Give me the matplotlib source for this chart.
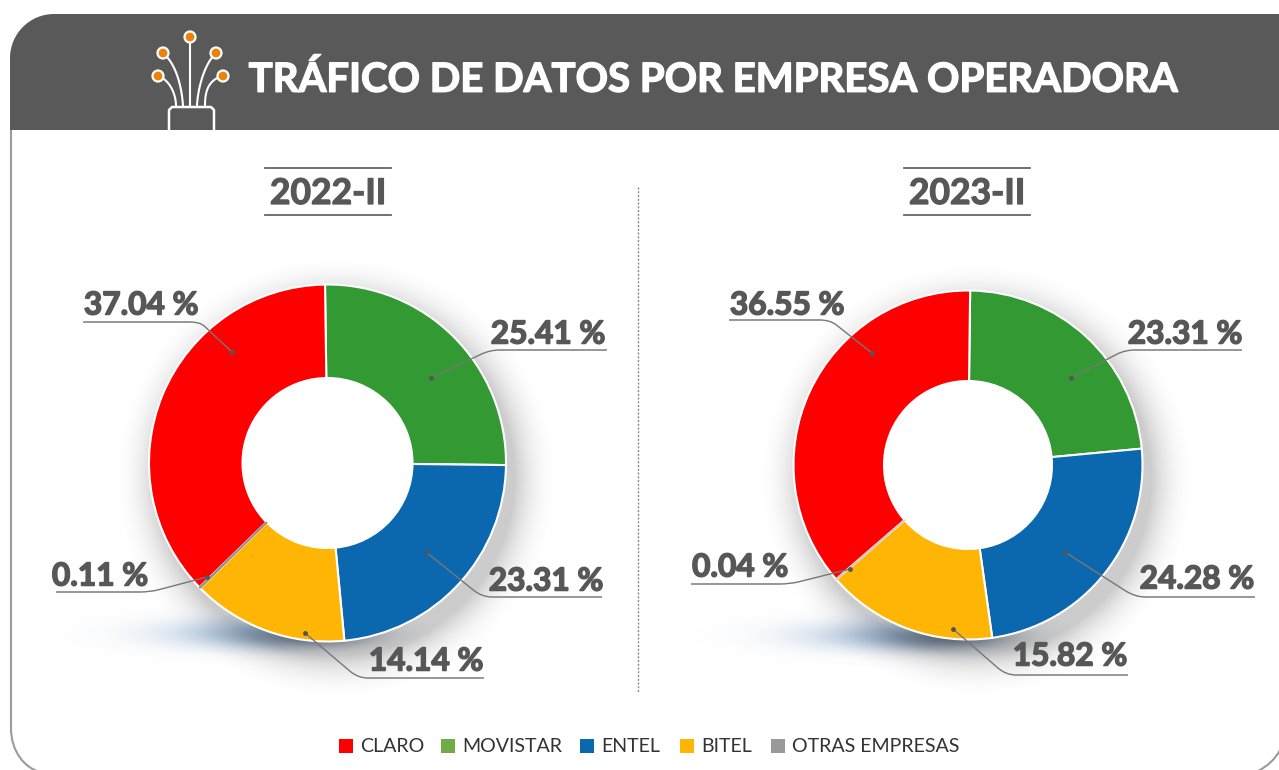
import numpy as np
import matplotlib
matplotlib.use("Agg")
import matplotlib.pyplot as plt
import matplotlib.patheffects as pe
from matplotlib.patches import PathPatch, Circle, Rectangle
from matplotlib.path import Path

W, H = 1279, 770
TITLE = "TRÁFICO DE DATOS POR EMPRESA OPERADORA"
periods = ["2022-II", "2023-II"]
companies = ["CLARO", "MOVISTAR", "ENTEL", "BITEL", "OTRAS EMPRESAS"]
share_2022 = [37.04, 25.41, 23.31, 14.14, 0.11]
share_2023 = [36.55, 23.31, 24.28, 15.82, 0.04]
colors = ["#FF0000", "#339933", "#0B67AE", "#FFB504", "#8F8F8F"]
legend_colors = ["#FF0000", "#70AD47", "#0B67AE", "#FFB504", "#999999"]
GREY = "#575757"
FONT = ["Lato", "DejaVu Sans"]

fig = plt.figure(figsize=(W / 100, H / 100), dpi=100, facecolor="white")
bg = fig.add_axes([0, 0, 1, 1])
bg.set_xlim(0, W)
bg.set_ylim(H, 0)
bg.axis("off")

k = 0.55
r = 44
# frame: left side with lower-left corner, and the lower-right corner
frame = Path(
    [(11, 130), (11, 728), (11, 752), (25, 768), (40, 772)],
    [Path.MOVETO, Path.LINETO, Path.CURVE4, Path.CURVE4, Path.CURVE4],
)
bg.add_patch(PathPatch(frame, fc="none", ec="#9B9B9B", lw=1.5))
corner = Path([(1258, 771), (1268, 766), (1276, 758), (1280, 750)],
              [Path.MOVETO, Path.CURVE4, Path.CURVE4, Path.CURVE4])
bg.add_patch(PathPatch(corner, fc="none", ec="#9B9B9B", lw=1.5))

# header
header = Path(
    [(10, 130), (10, 14 + r), (10, 14 + r * (1 - k)), (10 + r * (1 - k), 14), (10 + r, 14),
     (1281, 14), (1281, 130), (10, 130)],
    [Path.MOVETO, Path.LINETO, Path.CURVE4, Path.CURVE4, Path.CURVE4,
     Path.LINETO, Path.LINETO, Path.CLOSEPOLY],
)
bg.add_patch(PathPatch(header, fc="#595959", ec="none"))
bg.text(713, 80, TITLE, color="white", fontsize=28.9, fontweight="bold", family=FONT,
        ha="center", va="center",
        path_effects=[pe.withStroke(linewidth=1.0, foreground="white")])

# fibre icon
bg.plot([169, 169, 172, 211, 214, 214], [130, 110, 107, 107, 110, 130],
        color="white", lw=1.8, solid_capstyle="round")
fibres = [
    ([176, 174, 168, 158], [106, 94, 83, 76]),
    ([183, 181, 175, 163], [106, 90, 70, 53]),
    ([190, 190, 190], [106, 80, 37]),
    ([197, 199, 205, 216], [106, 90, 70, 53]),
    ([205, 206, 211, 223], [106, 94, 83, 76]),
]
for xs, ys in fibres:
    t = np.linspace(0, 1, len(xs))
    tt = np.linspace(0, 1, 30)
    cx = np.polyval(np.polyfit(t, xs, len(xs) - 1), tt)
    cy = np.polyval(np.polyfit(t, ys, len(ys) - 1), tt)
    bg.plot(cx, cy, color="white", lw=1.5)
    bg.add_patch(Circle((xs[-1], ys[-1]), 5.5, fc="#EE8208", ec="white", lw=1.6, zorder=3))

# divider
bg.plot([638, 638], [187, 692], color="#8A8A8A", lw=1.0, ls=(0, (1.5, 1.2)))

yy, xx = np.mgrid[0:H:1.0, 0:W:1.0]


def layer(alpha, rgb):
    img = np.zeros((H, W, 4))
    img[..., 0], img[..., 1], img[..., 2] = rgb
    img[..., 3] = alpha
    bg.imshow(img, extent=(0, W, H, 0), zorder=1, aspect="auto", interpolation="bilinear")


def soft_shadow(cx, cy, radius):
    inside = np.hypot(xx - cx, yy - cy) < radius - 2
    d = np.hypot(xx - (cx + 8), yy - (cy + 14))
    halo = np.clip((radius + 46 - d) / 46, 0, 1) ** 2.2 * 0.30
    halo[inside] = 0
    layer(halo, (0.33, 0.33, 0.33))
    sx = np.where(xx < cx - 70, 95, 80)
    glow = np.exp(-(((xx - (cx - 70)) / sx) ** 2 + ((yy - (cy + 170)) / 15) ** 2)) * 0.42
    glow[inside] = 0
    layer(glow, (0.25, 0.45, 0.68))
    core = np.exp(-(((xx - (cx - 15)) / 60) ** 2 + ((yy - (cy + 172)) / 12) ** 2)) * 0.65
    core[inside] = 0
    layer(core, (0.22, 0.25, 0.30))
    bg.set_xlim(0, W)
    bg.set_ylim(H, 0)


def draw_pie(cx, cy, radius, hole, values, start, sliver):
    soft_shadow(cx, cy, radius)
    ax = fig.add_axes([(cx - radius - 2) / W, 1 - (cy + radius + 2) / H,
                       (2 * radius + 4) / W, (2 * radius + 4) / H], zorder=2)
    ax.patch.set_alpha(0)
    order = [1, 2, 3, 4, 0]
    wedges, _ = ax.pie([values[i] for i in order], colors=[colors[i] for i in order],
                       startangle=start, counterclock=False, radius=radius,
                       wedgeprops=dict(width=radius - hole, edgecolor="white", linewidth=1.5))
    wedges[3].set_edgecolor(sliver)
    wedges[3].set_linewidth(0.9)
    wedges[3].set_zorder(5)
    ax.set_xlim(-radius - 2, radius + 2)
    ax.set_ylim(-radius - 2, radius + 2)
    ax.set_aspect("equal")
    ax.axis("off")


draw_pie(327.5, 463, 178.5, 85, share_2022, 90.8, "#8F8F8F")
draw_pie(968, 465, 174.5, 84, share_2023, 89.3, "#C9C9C9")

# overlay for labels
ov = fig.add_axes([0, 0, 1, 1], zorder=5)
ov.set_xlim(0, W)
ov.set_ylim(H, 0)
ov.axis("off")
ov.patch.set_alpha(0)

# period headings
for label, x0, x1, tx in [(periods[0], 265, 391, 328), (periods[1], 904, 1030, 967)]:
    ov.plot([x0, x1], [168, 168], color="#666666", lw=1.3)
    ov.plot([x0, x1], [215, 215], color="#666666", lw=1.3)
    ov.text(tx, 194, label, color=GREY, fontsize=25.5, fontweight="bold", family=FONT,
            ha="center", va="center",
            path_effects=[pe.withStroke(linewidth=0.9, foreground=GREY)])

# callouts: value list, company index, text x, text y, leader polyline
callouts = [
    (share_2022, 0, 141, 305, [(232, 352), (200, 322), (84, 322)]),
    (share_2022, 1, 548, 334, [(431, 378), (490, 350), (606, 350)]),
    (share_2022, 2, 546, 581, [(426, 552), (482, 597), (601, 597)]),
    (share_2022, 3, 426, 661, [(305, 633), (358, 678), (483, 678)]),
    (share_2022, 4, 100, 576, [(207, 577), (150, 592), (57, 592)]),
    (share_2023, 0, 787, 305, [(872, 353), (830, 320), (730, 320)]),
    (share_2023, 1, 1185, 334, [(1071, 378), (1125, 350), (1241, 350)]),
    (share_2023, 2, 1197, 579, [(1065, 552), (1135, 597), (1254, 597)]),
    (share_2023, 3, 1070, 656, [(953, 629), (1006, 675), (1127, 675)]),
    (share_2023, 4, 740, 567, [(850, 569), (790, 584), (692, 584)]),
]
for vals, i, tx, ty, line in callouts:
    (x0, y0), (x1, y1), (x2, y2) = line
    f = 0.85
    a = (x0 + (x1 - x0) * f, y0 + (y1 - y0) * f)
    sgn = 1 if x2 > x1 else -1
    b = (x1 + sgn * 10, y1)
    p = Path([(x0, y0), a, (x1, y1), b, (x2, y2)],
             [Path.MOVETO, Path.LINETO, Path.CURVE3, Path.CURVE3, Path.LINETO])
    ov.add_patch(PathPatch(p, fc="none", ec="#777777", lw=1.0))
    ov.plot([x0], [y0], "o", ms=2.5, color="#555555")
    ov.plot([b[0], x2], [y2, y2], color="#999999", lw=1.4)
    ov.text(tx, ty, f"{vals[i]:.2f} %", color=GREY, fontsize=22.8, fontweight="bold",
            family=FONT, ha="center", va="center",
            path_effects=[pe.withStroke(linewidth=1.1, foreground=GREY)])

# legend
legend_x = [339, 441, 580, 680, 771]
for name, c, x in zip(companies, legend_colors, legend_x):
    ov.add_patch(Rectangle((x, 739), 14, 14, fc=c, ec="none"))
    ov.text(x + 21, 746.5, name, color="#333333", fontsize=14.1, family=FONT,
            ha="left", va="center")

fig.savefig("out.png", dpi=100)
